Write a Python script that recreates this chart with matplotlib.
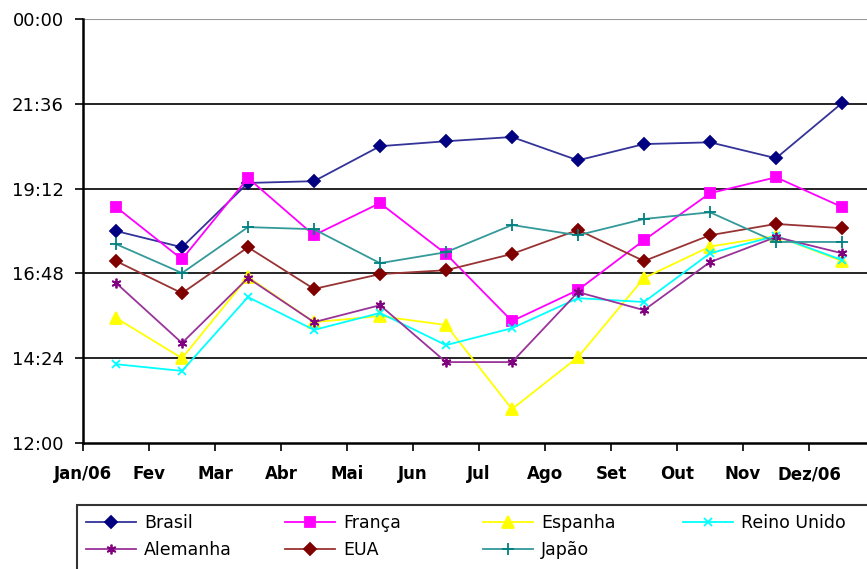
import matplotlib.pyplot as plt
from matplotlib.patches import Rectangle
from matplotlib.ticker import FixedLocator, FuncFormatter

# hours of day (decimal), one value per month
brasil = [18.00, 17.54, 19.36, 19.41, 20.40, 20.54, 20.66, 20.00, 20.46, 20.51, 20.06, 21.62]
franca = [18.68, 17.20, 19.50, 17.88, 18.79, 17.35, 15.45, 16.33, 17.74, 19.07, 19.52, 18.68]
espanha = [15.54, 14.40, 16.70, 15.42, 15.59, 15.34, 12.96, 14.43, 16.67, 17.56, 17.86, 17.15]
reino_unido = [14.23, 14.04, 16.13, 15.20, 15.68, 14.77, 15.25, 16.10, 15.99, 17.37, 17.86, 17.18]
alemanha = [16.53, 14.83, 16.67, 15.42, 15.90, 14.29, 14.29, 16.27, 15.76, 17.12, 17.83, 17.37]
eua = [17.15, 16.24, 17.54, 16.36, 16.78, 16.89, 17.35, 18.03, 17.15, 17.88, 18.20, 18.08]
japao = [17.63, 16.81, 18.11, 18.05, 17.09, 17.40, 18.17, 17.88, 18.34, 18.53, 17.69, 17.69]

months = ["Jan/06", "Fev", "Mar", "Abr", "Mai", "Jun", "Jul", "Ago", "Set", "Out", "Nov", "Dez/06"]
y_ticks = [12.0, 14.4, 16.8, 19.2, 21.6, 24.0]


def hhmm(v, pos=None):
    total = int(round(v * 60)) % (24 * 60)
    return "%02d:%02d" % (total // 60, total % 60)


fig = plt.figure(figsize=(8.67, 5.69), dpi=100)
ax = fig.add_axes([83 / 867, 1 - 443 / 569, 792 / 867, 424 / 569])

xs = [i + 0.5 for i in range(len(months))]
series = [
    ("Brasil", brasil, "#333399", "#000080", "D", 6.5),
    ("França", franca, "#FF00FF", "#FF00FF", "s", 7.5),
    ("Espanha", espanha, "#FFFF00", "#FFFF00", "^", 8),
    ("Reino Unido", reino_unido, "#00FFFF", "#00FFFF", "x", 6),
    ("Alemanha", alemanha, "#993399", "#800080", (6, 2, 0), 7),
    ("EUA", eua, "#993333", "#800000", "D", 6.5),
    ("Japão", japao, "#339999", "#008080", "+", 8),
]
lines = []
for name, vals, lc, mc, mk, ms in series:
    ln, = ax.plot(xs, vals, color=lc, lw=1.3, marker=mk, markersize=ms,
                  markerfacecolor=mc, markeredgecolor=mc, markeredgewidth=1.3, label=name)
    lines.append(ln)

ax.set_xlim(0, 12)
ax.set_ylim(12, 24)
ax.xaxis.set_major_locator(FixedLocator(range(12)))
ax.set_xticklabels(months, fontsize=12, fontweight="bold")
ax.yaxis.set_major_locator(FixedLocator(y_ticks))
ax.yaxis.set_major_formatter(FuncFormatter(hhmm))
ax.tick_params(axis="y", labelsize=13, length=6, width=1.2, pad=8)
ax.tick_params(axis="x", length=6, width=1.2, pad=10)

for y in y_ticks[1:-1]:
    ax.axhline(y, color="black", lw=1.2, zorder=0)
ax.axhline(24, color="#999999", lw=1.5, zorder=0)

for s in ["top", "right"]:
    ax.spines[s].set_visible(False)
ax.spines["left"].set_linewidth(1.8)
ax.spines["bottom"].set_linewidth(1.8)

# legend: Excel-style evenly spaced columns, box runs off the page
top = 1 - 505 / 569
fig.add_artist(Rectangle((77 / 867, -0.2), 1.0, top + 0.2, transform=fig.transFigure,
                         fill=False, edgecolor="#333333", lw=1.5))
col_x = [86, 285, 483, 683]
for c, x in enumerate(col_x):
    idx = [i for i in (c, c + 4) if i < len(lines)]
    fig.legend([lines[i] for i in idx], [series[i][0] for i in idx],
               loc="upper left", bbox_to_anchor=(x / 867, 1 - 514 / 569),
               frameon=False, borderaxespad=0, borderpad=0, fontsize=12.5,
               handlelength=2.9, handletextpad=0.45, labelspacing=0.5)

fig.savefig("out.png", dpi=100)
